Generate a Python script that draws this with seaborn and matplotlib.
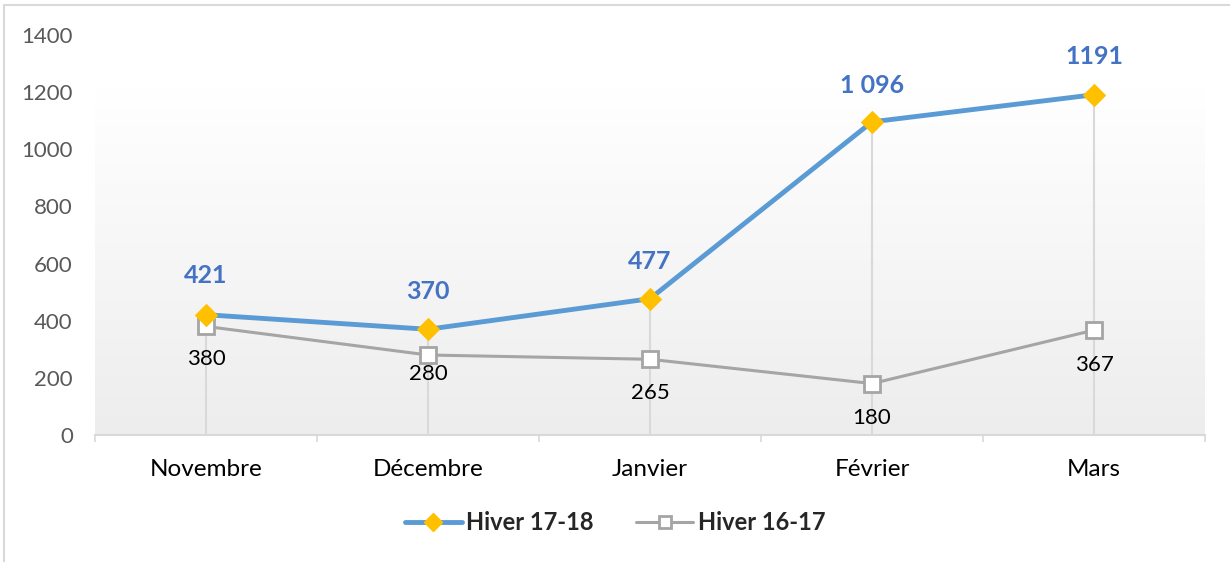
import numpy as np
import matplotlib
matplotlib.use("Agg")
import matplotlib.pyplot as plt
from matplotlib.colors import LinearSegmentedColormap
from matplotlib.lines import Line2D
import seaborn as sns

months = ["Novembre", "Décembre", "Janvier", "Février", "Mars"]
hiver_17_18 = [421, 370, 477, 1096, 1191]
hiver_16_17 = [380, 280, 265, 180, 367]
labels_17_18 = ["421", "370", "477", "1 096", "1191"]
labels_16_17 = ["380", "280", "265", "180", "367"]
y_ticks = [0, 200, 400, 600, 800, 1000, 1200, 1400]

# pixel offsets for the data labels (Excel placed them a bit unevenly)
dy_17_18 = [39, 38, 37, 36, 38]
dy_16_17 = [-33, -19, -34, -34, -35]

BLUE = "#5B9BD5"
GOLD = "#FFC000"
GREY = "#A5A5A5"
LABEL_BLUE = "#4472C4"

sns.set_theme(style="white")
plt.rcParams["font.family"] = ["Lato", "DejaVu Sans"]

fig = plt.figure(figsize=(12.3, 5.62), dpi=100)
ax = fig.add_axes([95 / 1230, 1 - 435 / 562, 1110 / 1230, 400 / 562])

x = np.arange(len(months))

# gradient fill of the plot area
cmap = LinearSegmentedColormap.from_list("bg", ["#FFFFFF", "#EDEDED"])
grad = np.linspace(0, 1, 256).reshape(-1, 1)
ax.imshow(grad, cmap=cmap, aspect="auto", extent=(-0.5, 4.5, 0, 1215),
          origin="upper", zorder=0)

# drop lines
tops = np.maximum(hiver_17_18, hiver_16_17)
ax.vlines(x, 0, tops, color="#D9D9D9", lw=1.5, zorder=1)

sns.lineplot(x=x, y=hiver_16_17, ax=ax, color=GREY, lw=2.2, marker="s",
             markersize=11, markerfacecolor="white", markeredgecolor=GREY,
             markeredgewidth=2, zorder=3)
sns.lineplot(x=x, y=hiver_17_18, ax=ax, color=BLUE, lw=3.5, marker="D",
             markersize=11, markerfacecolor=GOLD, markeredgecolor=GOLD, zorder=4)

for xi, yi, txt, dy in zip(x, hiver_17_18, labels_17_18, dy_17_18):
    ax.annotate(txt, (xi, yi), xytext=(0, dy * 0.72), textcoords="offset points",
                ha="center", va="center", fontsize=18, fontweight="bold",
                color=LABEL_BLUE)
for xi, yi, txt, dy in zip(x, hiver_16_17, labels_16_17, dy_16_17):
    ax.annotate(txt, (xi, yi), xytext=(0, dy * 0.72), textcoords="offset points",
                ha="center", va="center", fontsize=16, color="black")

ax.set_xlim(-0.5, 4.5)
ax.set_ylim(0, 1400)
ax.set_yticks(y_ticks)
ax.set_yticklabels([str(v) for v in y_ticks])
ax.set_xticks(x)
ax.set_xticklabels(months)
ax.set_xticks(np.arange(-0.5, 5, 1), minor=True)
ax.tick_params(axis="y", length=0, pad=16, labelsize=16, labelcolor="#595959")
ax.tick_params(axis="x", which="major", length=0, pad=17, labelsize=17.5,
               labelcolor="black")
ax.tick_params(axis="x", which="minor", length=5, width=1.2,
               color="#D9D9D9", direction="out", bottom=True)
for side in ["top", "right", "left"]:
    ax.spines[side].set_visible(False)
ax.spines["bottom"].set_color("#D9D9D9")
ax.spines["bottom"].set_linewidth(1.5)
ax.spines["bottom"].set_zorder(2)

handles = [
    Line2D([], [], color=BLUE, lw=3.5, marker="D", markersize=9,
           markerfacecolor=GOLD, markeredgecolor=GOLD),
    Line2D([], [], color=GREY, lw=2.2, marker="s", markersize=9,
           markerfacecolor="white", markeredgecolor=GREY, markeredgewidth=2),
]
fig.legend(handles, ["Hiver 17-18", "Hiver 16-17"], loc="center",
           bbox_to_anchor=(615 / 1230, 1 - 523 / 562), ncol=2, frameon=False,
           prop={"size": 17, "weight": "bold"}, handlelength=2.4,
           handletextpad=0.2, columnspacing=1.8)

# thin frame around the chart
fig.add_artist(plt.Line2D([4 / 1230, 4 / 1230], [0, 1 - 5 / 562],
                          transform=fig.transFigure, color="#D9D9D9", lw=1.5))
fig.add_artist(plt.Line2D([4 / 1230, 1], [1 - 5 / 562, 1 - 5 / 562],
                          transform=fig.transFigure, color="#D9D9D9", lw=1.5))

fig.savefig("out.png", dpi=100)
